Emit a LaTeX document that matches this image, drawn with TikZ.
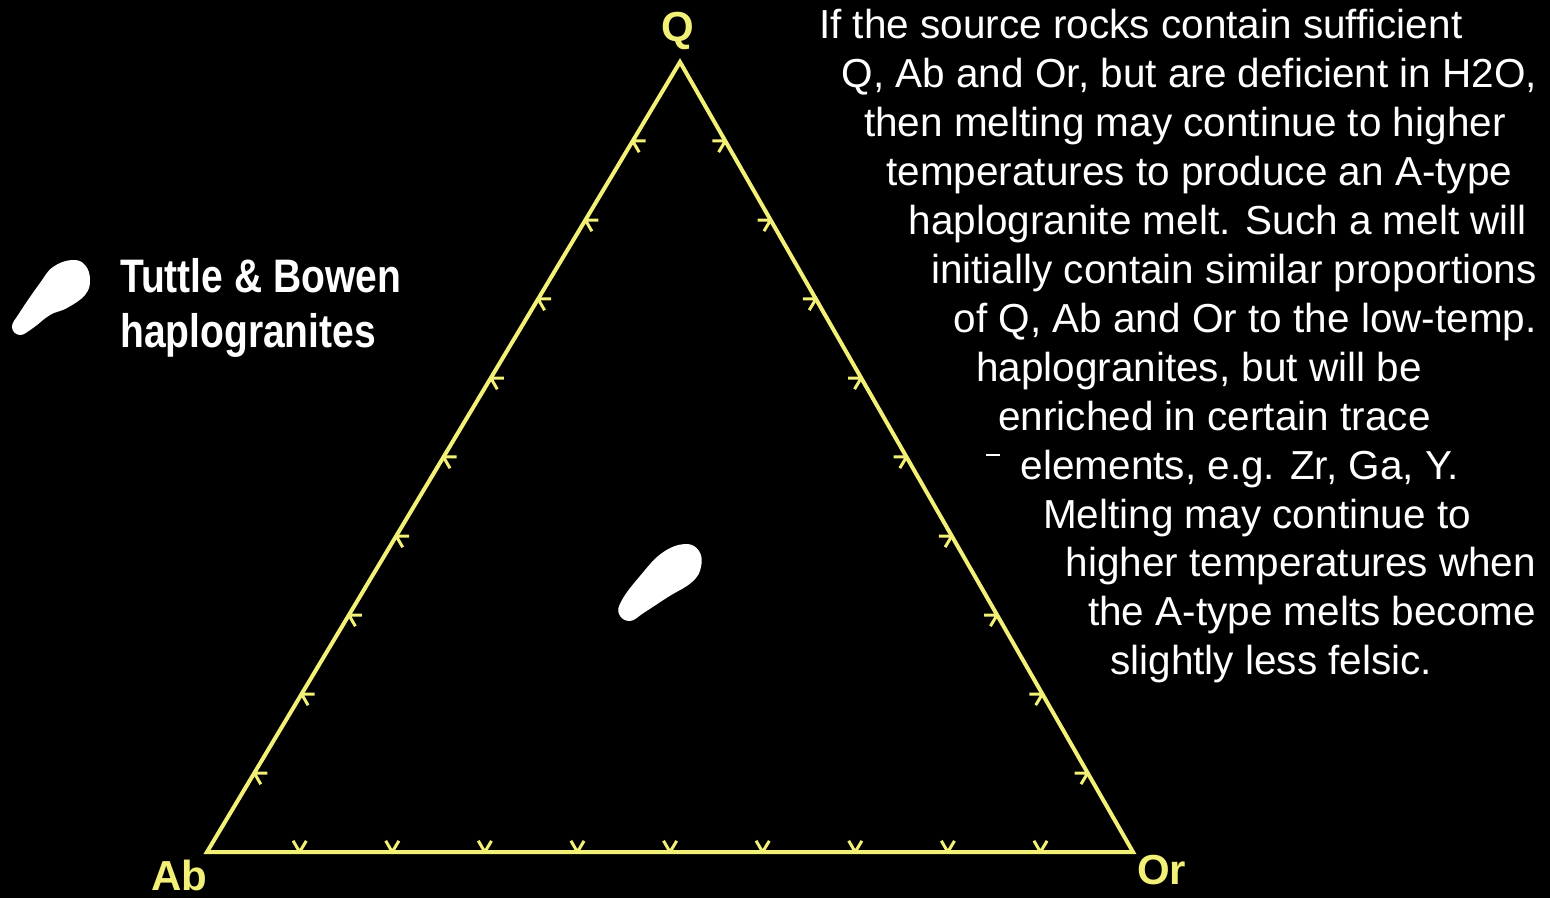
\documentclass[tikz,border=0pt]{standalone}
\usepackage{fontspec}
\setmainfont{Liberation Sans}
\usepackage{graphicx}
\usepackage{tikz}
\usetikzlibrary{calc}

\definecolor{triyellow}{RGB}{242,240,118}

\begin{document}
\begin{tikzpicture}[
  x=1pt, y=1pt,
  side/.style={draw=triyellow, line width=4pt, line join=miter},
  tick/.style={draw=triyellow, line width=3pt},
  apex/.style={text=triyellow, font=\fontsize{42}{47}\selectfont\bfseries,
               inner sep=0pt, anchor=base west},
  para/.style={text=white, font=\fontsize{40.5}{49}\selectfont,
               inner sep=0pt, anchor=base west},
  legend/.style={text=white, font=\fontsize{47}{49}\selectfont\bfseries,
                 inner sep=0pt, anchor=base west},
  blob/.style={fill=white, draw=none}
]

\fill[black] (0,0) rectangle (1550,898);
\useasboundingbox (0,0) rectangle (1550,898);

% ternary triangle
\coordinate (Q)  at (680,836);
\coordinate (Ab) at (207,46);
\coordinate (Or) at (1133,46);

\draw[side] (Ab) -- (Or) -- (Q) -- cycle;

\foreach \i in {1,...,9}{
  \draw[tick] ($(Ab)!\i/10!(Or)$) coordinate (b) -- ++(59:13)   (b) -- ++(120:13);
  \draw[tick] ($(Ab)!\i/10!(Q)$)  coordinate (l) -- ++(0:13)    (l) -- ++(-60:13);
  \draw[tick] ($(Or)!\i/10!(Q)$)  coordinate (r) -- ++(180:13)  (r) -- ++(239:13);
}

\node[apex] (lQ)  at (661,856) {Q};
\node[apex] (lAb) at (151,8)   {Ab};
\node[apex] (lOr) at (1137,14) {Or};

% haplogranite field
\fill[blob] plot[smooth cycle, tension=0.7] coordinates {
  (685,354) (699,347) (701,331) (692,316) (668,301) (645,286)
  (630,277) (619,284) (622,298) (640,322) (662,345)};

% legend
\fill[blob] plot[smooth cycle, tension=0.7] coordinates {
  (72,638) (85,633) (90,618) (85,603) (67,590) (50,583)
  (33,570) (20,563) (12,571) (20,586) (40,615) (53,631)};
\node[legend] (tb1) at (120,605) {\scalebox{0.83}[1]{Tuttle \& Bowen}};
\node[legend] (tb2) at (120,550) {\scalebox{0.83}[1]{haplogranites}};

% explanation
\foreach \txt [count=\k from 0] in {
  {If the source rocks contain sufficient},
  {Q, Ab and Or, but are deficient in H2O,},
  {then melting may continue to higher},
  {temperatures to produce an A-type},
  {haplogranite melt. Such a melt will},
  {initially contain similar proportions},
  {of Q, Ab and Or to the low-temp.},
  {haplogranites, but will be},
  {enriched in certain trace},
  {elements, e.g. Zr, Ga, Y.},
  {Melting may continue to},
  {higher temperatures when},
  {the A-type melts become},
  {slightly less felsic.}}
  \node[para] (line\k) at (819+22.4*\k, 859-48.9*\k) {\txt};

\draw[white, line width=1.5pt] (986,443) -- (1000,443);

\end{tikzpicture}
\end{document}
